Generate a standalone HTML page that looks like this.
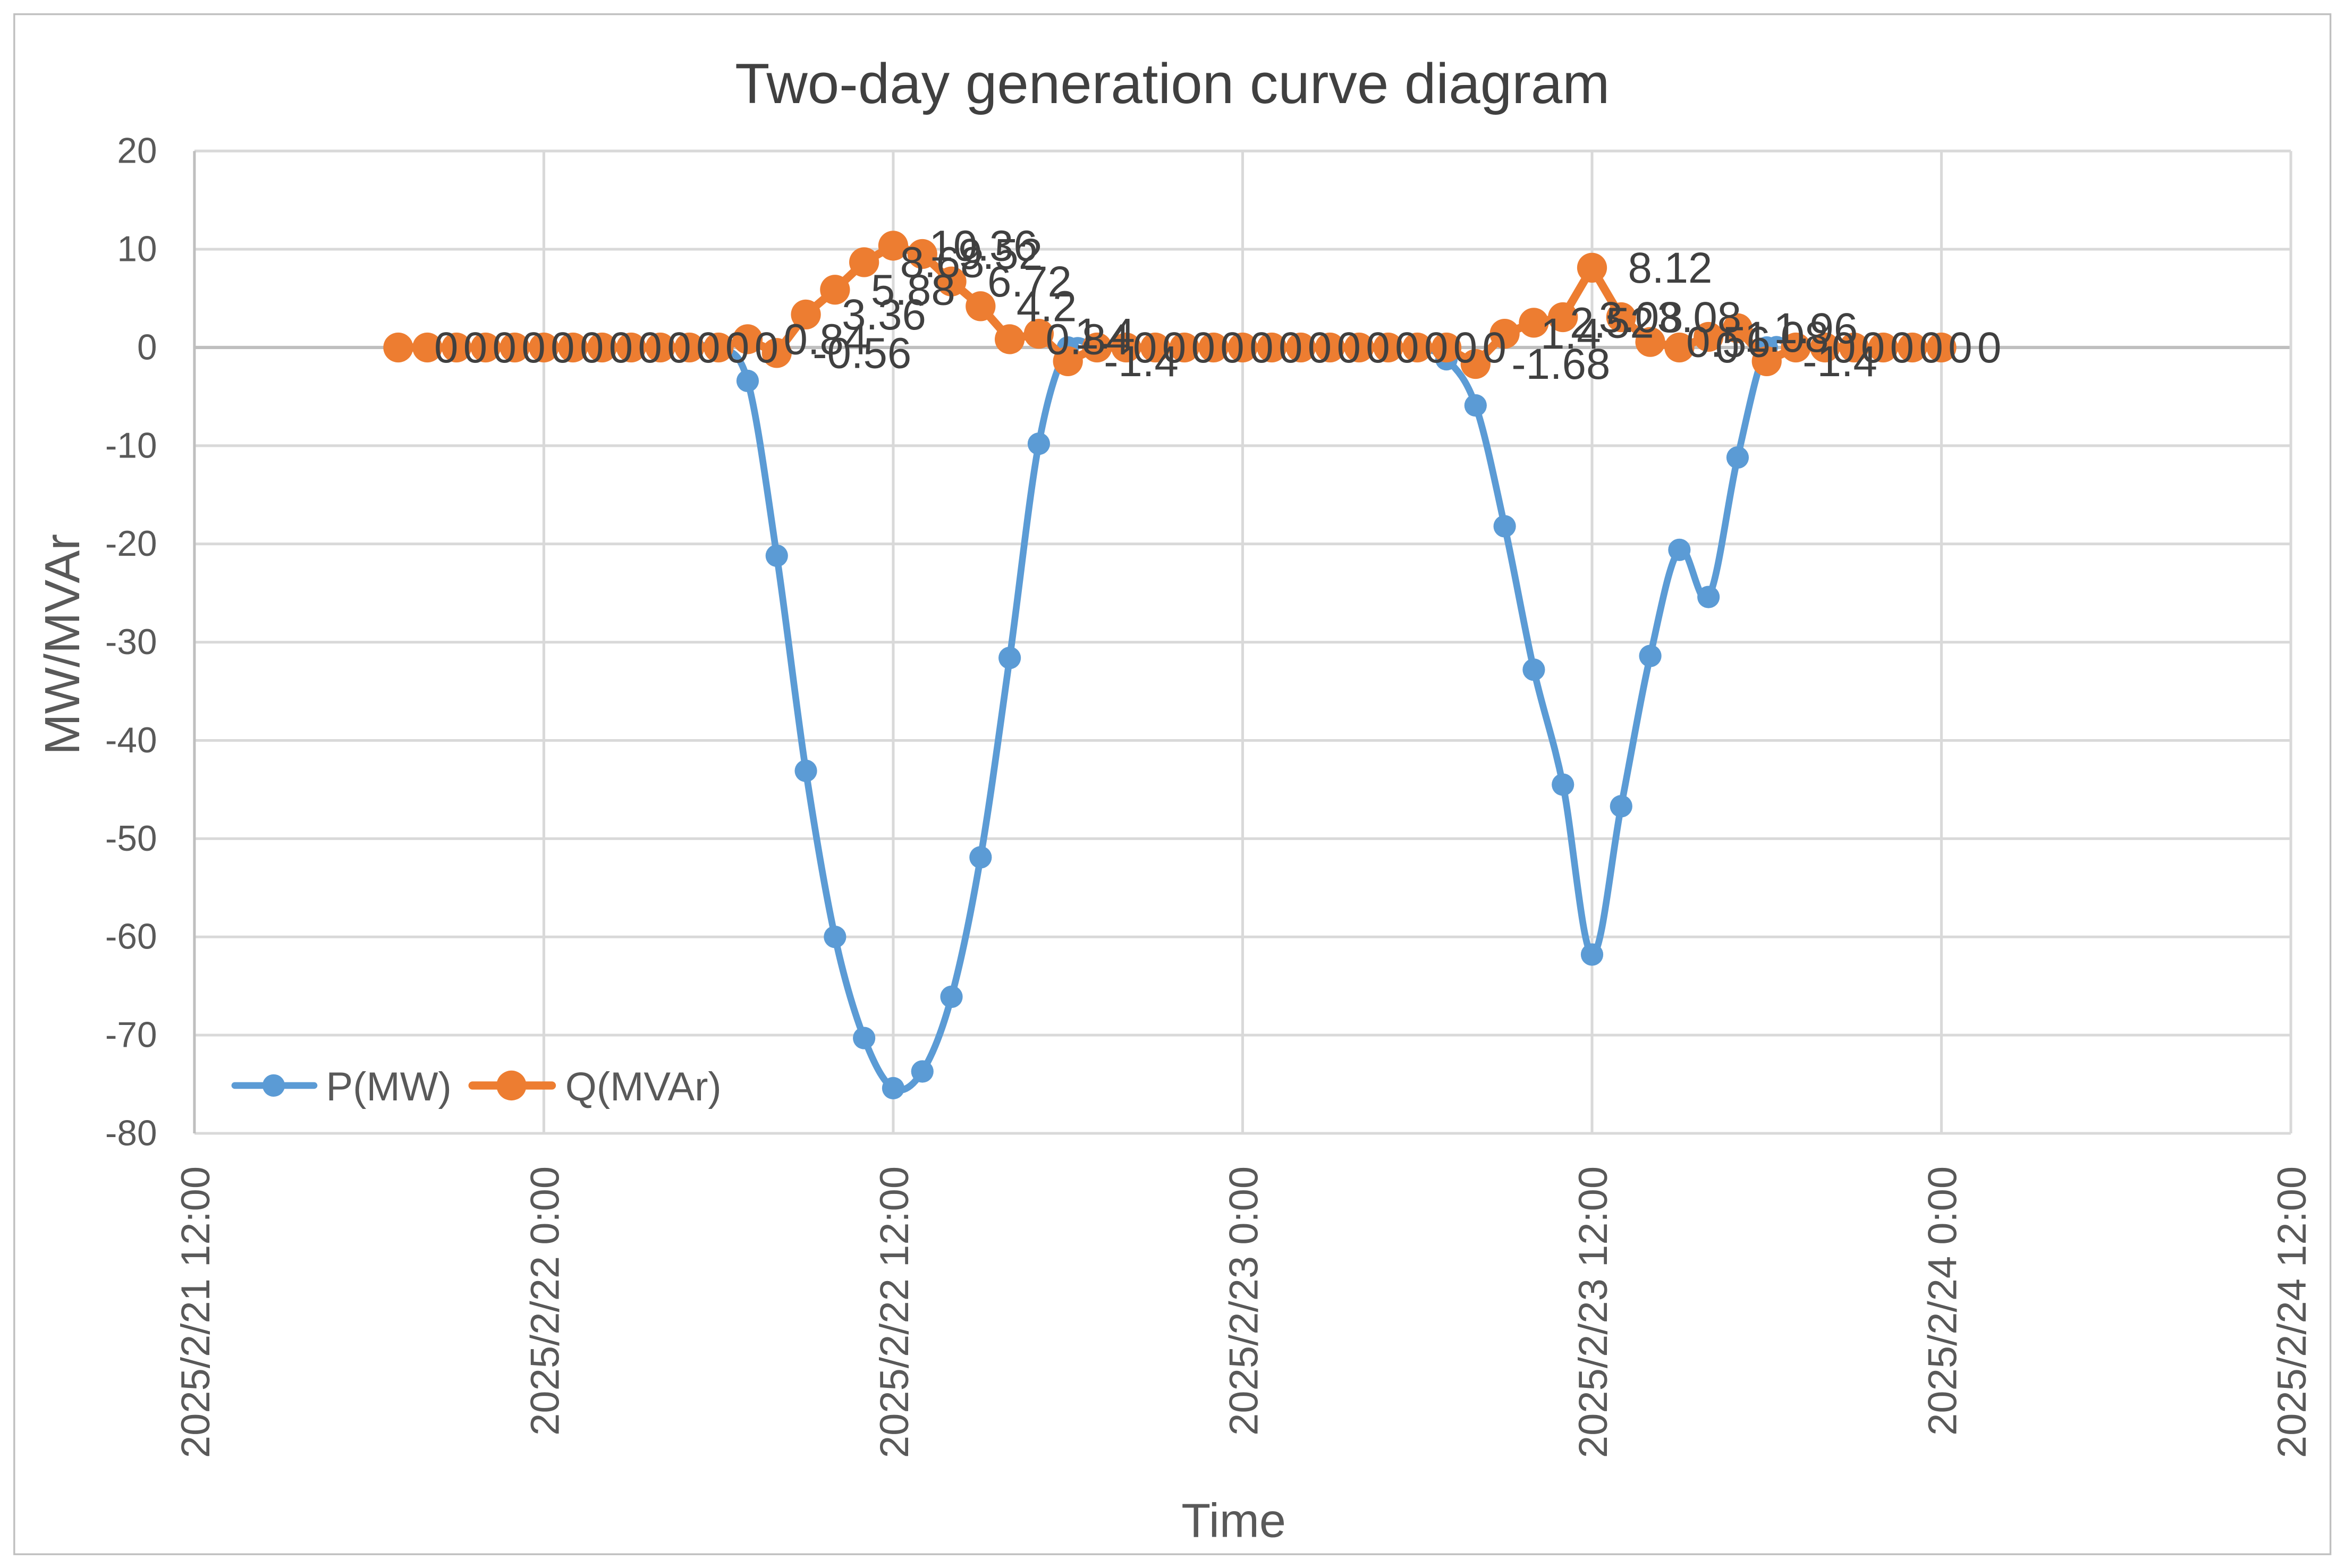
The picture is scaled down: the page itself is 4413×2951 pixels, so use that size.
<!DOCTYPE html>
<html><head><meta charset="utf-8"><style>
html,body{margin:0;padding:0;background:#fff;}
svg{display:block;font-family:"Liberation Sans",sans-serif;}
</style></head><body>
<svg id="chart" width="4413" height="2951" viewBox="0 0 1568.2 1048.7" xmlns="http://www.w3.org/2000/svg">
<rect x="9.5" y="9.5" width="1549" height="1030" fill="#fff" stroke="#bfbfbf" stroke-width="1.2"/>
<text x="784" y="69" font-size="38" fill="#404040" text-anchor="middle">Two-day generation curve diagram</text>
<g id="grid"></g>
<g id="yticks"></g>
<g id="xticks"></g>
<text transform="translate(53,431) rotate(-90)" font-size="33" fill="#595959" text-anchor="middle">MW/MVAr</text>
<text x="825" y="1028" font-size="32" fill="#595959" text-anchor="middle">Time</text>
<g id="series"></g>
<g>
<g>
<line x1="157" y1="726" x2="210" y2="726" stroke="#5b9bd5" stroke-width="4.5" stroke-linecap="round"/>
<circle cx="183" cy="726" r="7.5" fill="#5b9bd5"/>
<text x="218" y="736" font-size="27" fill="#595959">P(MW)</text>
</g>
<g>
<line x1="316" y1="726" x2="369" y2="726" stroke="#ed7d31" stroke-width="5.5" stroke-linecap="round"/>
<circle cx="342" cy="726" r="10" fill="#ed7d31"/>
<text x="378" y="736" font-size="27" fill="#595959">Q(MVAr)</text>
</g>
</g>
</svg>
<script>
// hours since 2025/2/21 12:00
const hours = [7,8,9,10,11,12,13,14,15,16,17,18,19,20,21,22,23,24,25,26,27,28,29,30,31,32,33,34,35,36,37,38,39,40,41,42,43,44,45,46,47,48,49,50,51,52,53,54,55,56,57,58,59,60];
const pValues = [0,0,0,0,0,0,0,0,0,0,0,0,-3.4,-21.2,-43.1,-60,-70.3,-75.4,-73.7,-66.1,-51.9,-31.6,-9.8,0,0,0,0,0,0,0,0,0,0,0,0,0,-1.2,-5.9,-18.2,-32.8,-44.5,-61.8,-46.7,-31.4,-20.6,-25.4,-11.2,0,0,0,0,0,0,0];
const qValues = [0,0,0,0,0,0,0,0,0,0,0,0,0.84,-0.56,3.36,5.88,8.68,10.36,9.52,6.72,4.2,0.84,1.4,-1.4,0,0,0,0,0,0,0,0,0,0,0,0,0,-1.68,1.4,2.52,3.08,8.12,3.08,0.56,0,1.08,1.96,-1.4,0,0,0,0,0,0];
const yTicks = [20,10,0,-10,-20,-30,-40,-50,-60,-70,-80];
const xTickHours = [0,12,24,36,48,60,72];
const xTickLabels = ["2025/2/21 12:00","2025/2/22 0:00","2025/2/22 12:00","2025/2/23 0:00","2025/2/23 12:00","2025/2/24 0:00","2025/2/24 12:00"];

const X0=130, X1=1532, Y0=101, Y1=758;
const xs = h => X0 + h/72*(X1-X0);
const ys = v => Y0 + (20-v)/100*(Y1-Y0);
const NS="http://www.w3.org/2000/svg";
function mk(tag, attrs, parent){const e=document.createElementNS(NS,tag);for(const k in attrs)e.setAttribute(k,attrs[k]);parent.appendChild(e);return e;}
const grid=document.getElementById('grid'), yt=document.getElementById('yticks'), xt=document.getElementById('xticks'), ser=document.getElementById('series');

yTicks.forEach(v=>{
  const l=mk('line',{x1:X0,x2:X1,y1:ys(v),y2:ys(v),stroke:v===0?'#bfbfbf':'#d9d9d9','stroke-width':v===0?2.2:1.8},grid);
  
  
  const t=mk('text',{x:X0-25,y:ys(v)+8,'font-size':24,fill:'#595959','text-anchor':'end'},yt);
  t.textContent=String(v);
  
  
});
const ax=mk('line',{x1:X0,x2:X0,y1:Y0,y2:Y1,stroke:'#bfbfbf','stroke-width':1.8},grid);


xTickHours.forEach((h,i)=>{
  if(h>0){
    const l=mk('line',{x1:xs(h),x2:xs(h),y1:Y0,y2:Y1,stroke:'#d9d9d9','stroke-width':1.8},grid);
    
    
  }
  const t=mk('text',{transform:`translate(${xs(h)+10},${Y1+22}) rotate(-90)`,'font-size':27,fill:'#595959','text-anchor':'end'},xt);
  t.textContent=xTickLabels[i];
  
  
});

function smoothPath(pts){
  let d=`M${pts[0][0]},${pts[0][1]}`;
  for(let i=0;i<pts.length-1;i++){
    const p0=pts[i-1]||pts[i], p1=pts[i], p2=pts[i+1], p3=pts[i+2]||p2;
    const t=1/6;
    const c1=[p1[0]+(p2[0]-p0[0])*t, p1[1]+(p2[1]-p0[1])*t];
    const c2=[p2[0]-(p3[0]-p1[0])*t, p2[1]-(p3[1]-p1[1])*t];
    d+=` C${c1[0]},${c1[1]} ${c2[0]},${c2[1]} ${p2[0]},${p2[1]}`;
  }
  return d;
}
const pPts=hours.map((h,i)=>[xs(h),ys(pValues[i])]);
const qPts=hours.map((h,i)=>[xs(h),ys(qValues[i])]);
const pLine=mk('path',{d:smoothPath(pPts),fill:'none',stroke:'#5b9bd5','stroke-width':4.5,'stroke-linejoin':'round'},ser);


pPts.forEach(p=>{
  const c=mk('circle',{cx:p[0],cy:p[1],r:7.5,fill:'#5b9bd5'},ser);
  
  
});
const qLine=mk('path',{d:'M'+qPts.map(p=>p.join(',')).join(' L'),fill:'none',stroke:'#ed7d31','stroke-width':5.5,'stroke-linejoin':'round'},ser);


qPts.forEach(p=>{
  const c=mk('circle',{cx:p[0],cy:p[1],r:10,fill:'#ed7d31'},ser);
  
  
});
qPts.forEach((p,i)=>{
  const t=mk('text',{x:p[0]+24,y:p[1]+10,'font-size':29,fill:'#404040'},ser);
  t.textContent=String(qValues[i]);
  
  
});
</script>
</body></html>
